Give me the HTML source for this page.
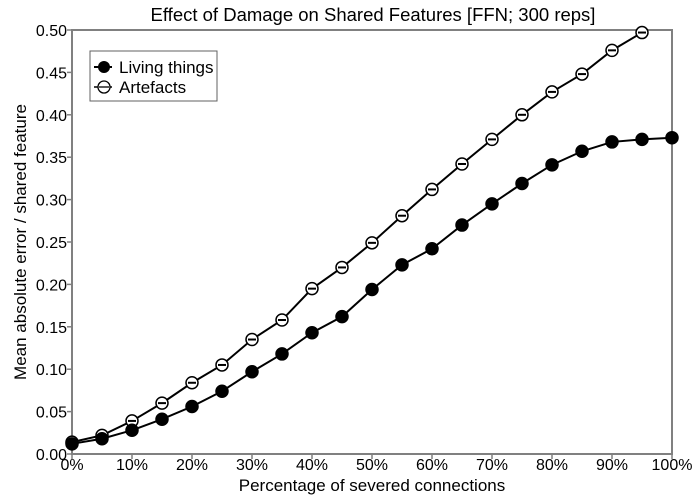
<!DOCTYPE html>
<html><head><meta charset="utf-8"><style>body{margin:0;background:#fff}svg{display:block;font-family:"Liberation Sans",Arial,sans-serif}</style></head>
<body>
<svg id="c" width="700" height="500">
<rect width="700" height="500" fill="#fff"/>
</svg>
<script>
const categories=[0,5,10,15,20,25,30,35,40,45,50,55,60,65,70,75,80,85,90,95,100];
const livingValues=[0.012,0.018,0.028,0.041,0.056,0.074,0.097,0.118,0.143,0.162,0.194,0.223,0.242,0.270,0.295,0.319,0.341,0.357,0.368,0.371,0.373];
const artefactValues=[0.014,0.022,0.039,0.060,0.084,0.105,0.135,0.158,0.195,0.220,0.249,0.281,0.312,0.342,0.371,0.400,0.427,0.448,0.476,0.497];
const yTicks=[0,0.05,0.1,0.15,0.2,0.25,0.3,0.35,0.4,0.45,0.5];
const xTicks=[0,10,20,30,40,50,60,70,80,90,100];
const L=72,R=672,T=30,B=454;
const X=v=>L+(v/100)*(R-L), Y=v=>B-(v/0.5)*(B-T);
const svg=document.getElementById('c');const NS='http://www.w3.org/2000/svg';
function mk(t,a,p){const e=document.createElementNS(NS,t);for(const k in a)e.setAttribute(k,a[k]);(p||svg).appendChild(e);return e;}
const title=mk('text',{x:373,y:21,'text-anchor':'middle','font-size':18.5});title.textContent='Effect of Damage on Shared Features [FFN; 300 reps]';

const frame=mk('rect',{x:L,y:T,width:R-L,height:B-T,fill:'none',stroke:'#808080','stroke-width':2});

yTicks.forEach(v=>{mk('line',{x1:L-5,x2:L,y1:Y(v),y2:Y(v),stroke:'#808080','stroke-width':1.5});
const t=mk('text',{x:L-5,y:Y(v)+6,'text-anchor':'end','font-size':16});t.textContent=v.toFixed(2);
});
xTicks.forEach(v=>{mk('line',{x1:X(v),x2:X(v),y1:B,y2:B+5,stroke:'#808080','stroke-width':1.5});
const t=mk('text',{x:X(v),y:B+16,'text-anchor':'middle','font-size':16});t.textContent=v+'%';
});
const xt=mk('text',{x:372,y:491,'text-anchor':'middle','font-size':17});xt.textContent='Percentage of severed connections';

const yt=mk('text',{x:0,y:0,'text-anchor':'middle','font-size':17,transform:`translate(26,${(T+B)/2}) rotate(-90)`});yt.textContent='Mean absolute error / shared feature';

mk('clipPath',{id:'cp'});mk('rect',{x:L-8,y:T-8,width:R-L+16,height:B-T+16},svg.lastChild);
const g=mk('g',{'clip-path':'url(#cp)'});
function series(vals,filled,name){
 const pts=vals.map((v,i)=>X(categories[i])+','+Y(v)).join(' ');
 const pl=mk('polyline',{points:pts,fill:'none',stroke:'#000','stroke-width':2},g);
 
 vals.forEach((v,i)=>{const c=mk('circle',{cx:X(categories[i]),cy:Y(v),r:6,fill:filled?'#000':'#fff',stroke:'#000','stroke-width':1.5},g);
 
 if(!filled)mk('line',{x1:X(categories[i])-4,x2:X(categories[i])+4,y1:Y(v),y2:Y(v),stroke:'#000','stroke-width':2},g);});
}
series(artefactValues,false,'artefacts');
series(livingValues,true,'living-things');
const lg=mk('g',{});
mk('rect',{x:90,y:51,width:127,height:50,fill:'#fff',stroke:'#606060','stroke-width':1},lg);
mk('line',{x1:94,x2:112,y1:67,y2:67,stroke:'#000','stroke-width':2},lg);
mk('circle',{cx:104,cy:67,r:6,fill:'#000'},lg);
const t1=mk('text',{x:119,y:73,'font-size':17},lg);t1.textContent='Living things';
mk('line',{x1:94,x2:112,y1:87,y2:87,stroke:'#000','stroke-width':1.5},lg);
mk('circle',{cx:104,cy:87,r:6,fill:'#fff',stroke:'#000','stroke-width':1.3},lg);
mk('line',{x1:99,x2:109,y1:87,y2:87,stroke:'#000','stroke-width':1.3},lg);
const t2=mk('text',{x:119,y:93,'font-size':17},lg);t2.textContent='Artefacts';
</script>
</body></html>
